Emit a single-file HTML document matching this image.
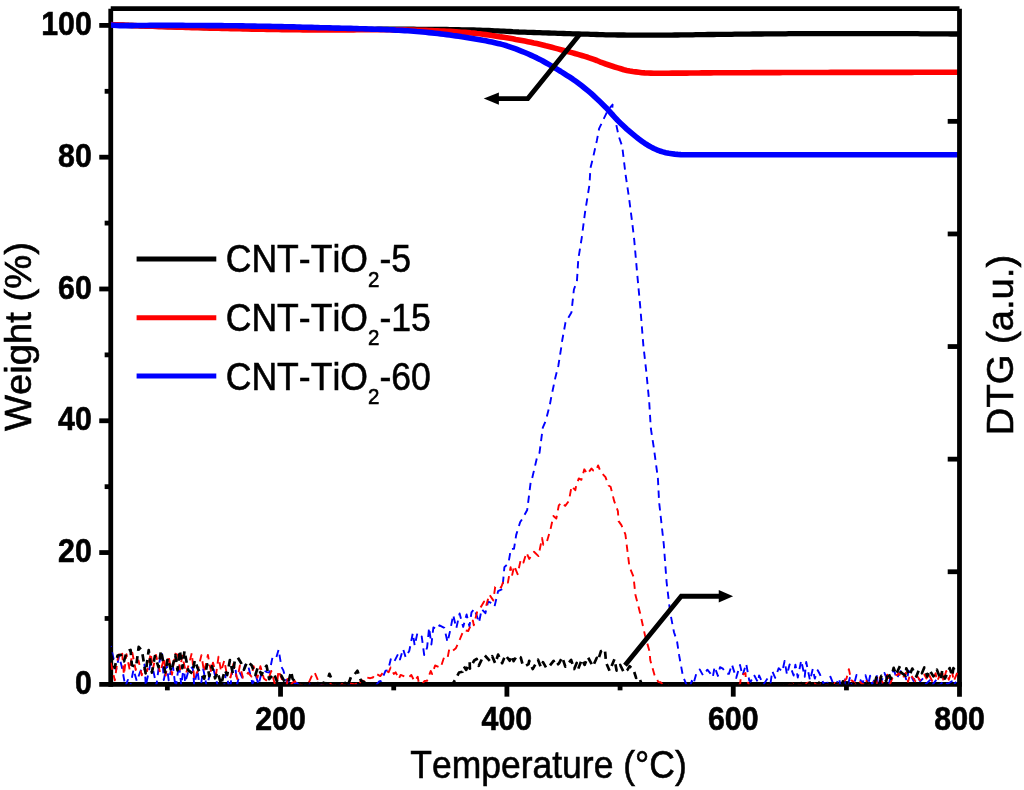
<!DOCTYPE html>
<html lang="en"><head><meta charset="utf-8"><title>TGA / DTG of CNT-TiO2</title>
<style>html,body{margin:0;padding:0;background:#fff}body{width:1024px;height:790px;overflow:hidden}svg{display:block}</style>
</head><body>
<svg width="1024" height="790" viewBox="0 0 1024 790">
<rect width="1024" height="790" fill="#fff"/>
<defs><clipPath id="plot"><rect x="110.75" y="8.7" width="848.75" height="675.65"/></clipPath></defs>
<g stroke="#000" stroke-width="4.8" fill="none" stroke-linecap="butt">
<line x1="110.75" y1="8.7" x2="110.75" y2="686.75"/>
<line x1="99.25" y1="684.35" x2="961.9" y2="684.35"/>
<line x1="99.25" y1="25.40" x2="110.75" y2="25.40"/>
<line x1="104.65" y1="91.30" x2="110.75" y2="91.30"/>
<line x1="99.25" y1="157.19" x2="110.75" y2="157.19"/>
<line x1="104.65" y1="223.09" x2="110.75" y2="223.09"/>
<line x1="99.25" y1="288.98" x2="110.75" y2="288.98"/>
<line x1="104.65" y1="354.88" x2="110.75" y2="354.88"/>
<line x1="99.25" y1="420.77" x2="110.75" y2="420.77"/>
<line x1="104.65" y1="486.67" x2="110.75" y2="486.67"/>
<line x1="99.25" y1="552.56" x2="110.75" y2="552.56"/>
<line x1="104.65" y1="618.46" x2="110.75" y2="618.46"/>
<line x1="280.54" y1="684.35" x2="280.54" y2="696.65"/>
<line x1="506.90" y1="684.35" x2="506.90" y2="696.65"/>
<line x1="733.26" y1="684.35" x2="733.26" y2="696.65"/>
<line x1="167.36" y1="684.35" x2="167.36" y2="690.35"/>
<line x1="393.72" y1="684.35" x2="393.72" y2="690.35"/>
<line x1="620.08" y1="684.35" x2="620.08" y2="690.35"/>
<line x1="846.44" y1="684.35" x2="846.44" y2="690.35"/>
</g>
<g clip-path="url(#plot)">
<polyline class="tg black" points="110.8,24.8 113.8,24.9 116.8,25.0 119.8,25.1 122.8,25.2 125.8,25.3 128.8,25.4 131.8,25.5 134.8,25.6 137.8,25.7 140.8,25.8 143.8,25.9 146.8,26.0 149.8,26.1 152.8,26.2 155.8,26.3 158.8,26.4 161.8,26.4 164.8,26.5 167.8,26.6 170.8,26.7 173.8,26.8 176.8,26.9 179.8,26.9 182.8,27.0 185.8,27.1 188.8,27.2 191.8,27.3 194.8,27.3 197.8,27.4 200.8,27.5 203.8,27.5 206.8,27.6 209.8,27.7 212.8,27.8 215.8,27.8 218.8,27.9 221.8,27.9 224.8,28.0 227.8,28.1 230.8,28.1 233.8,28.2 236.8,28.2 239.8,28.3 242.8,28.4 245.8,28.4 248.8,28.5 251.8,28.5 254.8,28.6 257.8,28.6 260.8,28.7 263.8,28.7 266.8,28.8 269.8,28.8 272.8,28.8 275.8,28.9 278.8,28.9 281.8,29.0 284.8,29.0 287.8,29.1 290.8,29.1 293.8,29.1 296.8,29.2 299.8,29.2 302.8,29.3 305.8,29.3 308.8,29.3 311.8,29.3 314.8,29.4 317.8,29.4 320.8,29.4 323.8,29.4 326.8,29.4 329.8,29.4 332.8,29.4 335.8,29.4 338.8,29.4 341.8,29.4 344.8,29.4 347.8,29.4 350.8,29.3 353.8,29.3 356.8,29.3 359.8,29.3 362.8,29.3 365.8,29.3 368.8,29.3 371.8,29.3 374.8,29.3 377.8,29.2 380.8,29.2 383.8,29.2 386.8,29.2 389.8,29.2 392.8,29.2 395.8,29.2 398.8,29.2 401.8,29.2 404.8,29.2 407.8,29.2 410.8,29.2 413.8,29.2 416.8,29.3 419.8,29.3 422.8,29.3 425.8,29.3 428.8,29.3 431.8,29.4 434.8,29.4 437.8,29.4 440.8,29.5 443.8,29.5 446.8,29.5 449.8,29.6 452.8,29.6 455.8,29.7 458.8,29.7 461.8,29.8 464.8,29.8 467.8,29.9 470.8,29.9 473.8,30.0 476.8,30.1 479.8,30.1 482.8,30.3 485.8,30.4 488.8,30.5 491.8,30.6 494.8,30.8 497.8,30.9 500.8,31.1 503.8,31.2 506.8,31.4 509.8,31.5 512.8,31.7 515.8,31.8 518.8,32.0 521.8,32.1 524.8,32.2 527.8,32.3 530.8,32.4 533.8,32.5 536.8,32.6 539.8,32.7 542.8,32.8 545.8,32.9 548.8,33.0 551.8,33.1 554.8,33.2 557.8,33.3 560.8,33.4 563.8,33.5 566.8,33.6 569.8,33.7 572.8,33.8 575.8,33.9 578.8,34.0 581.8,34.1 584.8,34.2 587.8,34.2 590.8,34.3 593.8,34.4 596.8,34.5 599.8,34.6 602.8,34.7 605.8,34.8 608.8,34.8 611.8,34.9 614.8,34.9 617.8,35.0 620.8,35.0 623.8,35.0 626.8,35.1 629.8,35.1 632.8,35.1 635.8,35.1 638.8,35.2 641.8,35.2 644.8,35.2 647.8,35.2 650.8,35.2 653.8,35.2 656.8,35.2 659.8,35.2 662.8,35.1 665.8,35.1 668.8,35.1 671.8,35.1 674.8,35.0 677.8,35.0 680.8,34.9 683.8,34.9 686.8,34.9 689.8,34.8 692.8,34.8 695.8,34.7 698.8,34.7 701.8,34.6 704.8,34.6 707.8,34.5 710.8,34.5 713.8,34.5 716.8,34.4 719.8,34.4 722.8,34.4 725.8,34.3 728.8,34.3 731.8,34.3 734.8,34.2 737.8,34.2 740.8,34.2 743.8,34.1 746.8,34.1 749.8,34.1 752.8,34.0 755.8,34.0 758.8,34.0 761.8,34.0 764.8,33.9 767.8,33.9 770.8,33.9 773.8,33.8 776.8,33.8 779.8,33.8 782.8,33.8 785.8,33.8 788.8,33.7 791.8,33.7 794.8,33.7 797.8,33.7 800.8,33.7 803.8,33.7 806.8,33.7 809.8,33.7 812.8,33.7 815.8,33.7 818.8,33.7 821.8,33.7 824.8,33.7 827.8,33.6 830.8,33.6 833.8,33.6 836.8,33.6 839.8,33.6 842.8,33.6 845.8,33.6 848.8,33.6 851.8,33.6 854.8,33.6 857.8,33.6 860.8,33.6 863.8,33.6 866.8,33.6 869.8,33.6 872.8,33.6 875.8,33.6 878.8,33.6 881.8,33.6 884.8,33.6 887.8,33.6 890.8,33.6 893.8,33.6 896.8,33.6 899.8,33.6 902.8,33.7 905.8,33.7 908.8,33.7 911.8,33.7 914.8,33.7 917.8,33.7 920.8,33.8 923.8,33.8 926.8,33.8 929.8,33.8 932.8,33.8 935.8,33.9 938.8,33.9 941.8,33.9 944.8,33.9 947.8,33.9 950.8,34.0 953.8,34.0 956.8,34.0 959.5,34.0" fill="none" stroke="#000" stroke-width="5.3" stroke-linejoin="round"/>
<polyline class="tg red" points="110.8,24.6 113.8,24.7 116.8,24.8 119.8,25.0 122.8,25.1 125.8,25.2 128.8,25.4 131.8,25.5 134.8,25.6 137.8,25.7 140.8,25.9 143.8,26.0 146.8,26.1 149.8,26.2 152.8,26.3 155.8,26.5 158.8,26.6 161.8,26.7 164.8,26.8 167.8,26.9 170.8,27.0 173.8,27.0 176.8,27.1 179.8,27.2 182.8,27.3 185.8,27.4 188.8,27.5 191.8,27.6 194.8,27.7 197.8,27.8 200.8,27.8 203.8,27.9 206.8,28.0 209.8,28.1 212.8,28.1 215.8,28.2 218.8,28.3 221.8,28.4 224.8,28.4 227.8,28.5 230.8,28.6 233.8,28.7 236.8,28.7 239.8,28.8 242.8,28.9 245.8,28.9 248.8,29.0 251.8,29.1 254.8,29.1 257.8,29.2 260.8,29.2 263.8,29.3 266.8,29.4 269.8,29.4 272.8,29.4 275.8,29.5 278.8,29.5 281.8,29.6 284.8,29.6 287.8,29.7 290.8,29.7 293.8,29.8 296.8,29.8 299.8,29.8 302.8,29.9 305.8,29.9 308.8,29.9 311.8,29.9 314.8,30.0 317.8,30.0 320.8,30.0 323.8,30.0 326.8,30.0 329.8,30.0 332.8,30.0 335.8,30.0 338.8,30.0 341.8,29.9 344.8,29.9 347.8,29.9 350.8,29.9 353.8,29.9 356.8,29.8 359.8,29.8 362.8,29.8 365.8,29.8 368.8,29.8 371.8,29.8 374.8,29.8 377.8,29.8 380.8,29.8 383.8,29.8 386.8,29.8 389.8,29.8 392.8,29.9 395.8,29.9 398.8,29.9 401.8,29.9 404.8,29.9 407.8,30.0 410.8,30.0 413.8,30.1 416.8,30.2 419.8,30.3 422.8,30.3 425.8,30.4 428.8,30.5 431.8,30.6 434.8,30.7 437.8,30.8 440.8,31.0 443.8,31.1 446.8,31.3 449.8,31.4 452.8,31.6 455.8,31.8 458.8,32.0 461.8,32.2 464.8,32.4 467.8,32.6 470.8,32.9 473.8,33.1 476.8,33.5 479.8,33.8 482.8,34.2 485.8,34.6 488.8,35.0 491.8,35.5 494.8,35.9 497.8,36.4 500.8,36.9 503.8,37.3 506.8,37.8 509.8,38.3 512.8,38.8 515.8,39.4 518.8,39.9 521.8,40.5 524.8,41.1 527.8,41.7 530.8,42.3 533.8,43.0 536.8,43.6 539.8,44.3 542.8,45.0 545.8,45.8 548.8,46.5 551.8,47.3 554.8,48.1 557.8,48.9 560.8,49.7 563.8,50.5 566.8,51.3 569.8,52.1 572.8,52.9 575.8,53.8 578.8,54.6 581.8,55.5 584.8,56.4 587.8,57.3 590.8,58.3 593.8,59.4 596.8,60.5 599.8,61.8 602.8,62.9 605.8,64.0 608.8,65.0 611.8,66.0 614.8,67.0 617.8,67.9 620.8,68.8 623.8,69.7 626.8,70.4 629.8,71.0 632.8,71.5 635.8,71.9 638.8,72.3 641.8,72.7 644.8,72.9 647.8,73.0 650.8,73.1 653.8,73.2 656.8,73.2 659.8,73.2 662.8,73.2 665.8,73.2 668.8,73.2 671.8,73.1 674.8,73.1 677.8,73.1 680.8,73.1 683.8,73.1 686.8,73.1 689.8,73.0 692.8,73.0 695.8,73.0 698.8,73.0 701.8,72.9 704.8,72.9 707.8,72.9 710.8,72.9 713.8,72.8 716.8,72.8 719.8,72.8 722.8,72.8 725.8,72.8 728.8,72.8 731.8,72.7 734.8,72.7 737.8,72.7 740.8,72.7 743.8,72.7 746.8,72.7 749.8,72.7 752.8,72.6 755.8,72.6 758.8,72.6 761.8,72.6 764.8,72.6 767.8,72.6 770.8,72.6 773.8,72.6 776.8,72.6 779.8,72.6 782.8,72.5 785.8,72.5 788.8,72.5 791.8,72.5 794.8,72.5 797.8,72.5 800.8,72.5 803.8,72.5 806.8,72.5 809.8,72.5 812.8,72.5 815.8,72.5 818.8,72.5 821.8,72.5 824.8,72.5 827.8,72.5 830.8,72.4 833.8,72.4 836.8,72.4 839.8,72.4 842.8,72.4 845.8,72.4 848.8,72.4 851.8,72.4 854.8,72.4 857.8,72.4 860.8,72.4 863.8,72.4 866.8,72.4 869.8,72.4 872.8,72.4 875.8,72.4 878.8,72.4 881.8,72.4 884.8,72.4 887.8,72.4 890.8,72.4 893.8,72.4 896.8,72.4 899.8,72.4 902.8,72.4 905.8,72.4 908.8,72.4 911.8,72.4 914.8,72.3 917.8,72.3 920.8,72.3 923.8,72.3 926.8,72.3 929.8,72.3 932.8,72.3 935.8,72.3 938.8,72.3 941.8,72.3 944.8,72.3 947.8,72.3 950.8,72.3 953.8,72.3 956.8,72.3 959.5,72.3" fill="none" stroke="#ff0000" stroke-width="5.6" stroke-linejoin="round"/>
<polyline class="tg blue" points="110.8,25.0 113.8,25.2 116.8,25.5 119.8,25.6 122.8,25.6 125.8,25.6 128.8,25.6 131.8,25.6 134.8,25.5 137.8,25.5 140.8,25.5 143.8,25.5 146.8,25.5 149.8,25.4 152.8,25.4 155.8,25.4 158.8,25.4 161.8,25.4 164.8,25.4 167.8,25.4 170.8,25.4 173.8,25.4 176.8,25.4 179.8,25.4 182.8,25.4 185.8,25.5 188.8,25.5 191.8,25.5 194.8,25.5 197.8,25.5 200.8,25.5 203.8,25.5 206.8,25.6 209.8,25.6 212.8,25.6 215.8,25.6 218.8,25.6 221.8,25.6 224.8,25.7 227.8,25.7 230.8,25.7 233.8,25.8 236.8,25.8 239.8,25.9 242.8,25.9 245.8,26.0 248.8,26.0 251.8,26.1 254.8,26.1 257.8,26.2 260.8,26.2 263.8,26.3 266.8,26.3 269.8,26.4 272.8,26.5 275.8,26.5 278.8,26.6 281.8,26.6 284.8,26.7 287.8,26.8 290.8,26.9 293.8,26.9 296.8,27.0 299.8,27.1 302.8,27.2 305.8,27.3 308.8,27.4 311.8,27.4 314.8,27.5 317.8,27.6 320.8,27.7 323.8,27.8 326.8,27.8 329.8,27.9 332.8,28.0 335.8,28.1 338.8,28.1 341.8,28.2 344.8,28.3 347.8,28.4 350.8,28.4 353.8,28.5 356.8,28.6 359.8,28.7 362.8,28.8 365.8,28.9 368.8,29.0 371.8,29.1 374.8,29.2 377.8,29.3 380.8,29.4 383.8,29.5 386.8,29.6 389.8,29.8 392.8,29.9 395.8,30.1 398.8,30.2 401.8,30.4 404.8,30.6 407.8,30.8 410.8,31.0 413.8,31.2 416.8,31.5 419.8,31.7 422.8,32.0 425.8,32.3 428.8,32.6 431.8,32.9 434.8,33.2 437.8,33.5 440.8,33.9 443.8,34.2 446.8,34.6 449.8,35.0 452.8,35.5 455.8,35.9 458.8,36.3 461.8,36.8 464.8,37.2 467.8,37.7 470.8,38.2 473.8,38.7 476.8,39.2 479.8,39.7 482.8,40.3 485.8,40.8 488.8,41.4 491.8,42.0 494.8,42.7 497.8,43.4 500.8,44.1 503.8,44.9 506.8,45.8 509.8,46.8 512.8,47.8 515.8,48.9 518.8,50.1 521.8,51.3 524.8,52.5 527.8,53.8 530.8,55.1 533.8,56.5 536.8,57.9 539.8,59.4 542.8,61.0 545.8,62.7 548.8,64.4 551.8,66.1 554.8,67.9 557.8,69.7 560.8,71.5 563.8,73.4 566.8,75.3 569.8,77.2 572.8,79.2 575.8,81.3 578.8,83.5 581.8,85.8 584.8,88.2 587.8,90.7 590.8,93.2 593.8,95.9 596.8,98.7 599.8,101.5 602.8,104.4 605.8,107.4 608.8,110.7 611.8,114.0 614.8,117.3 617.8,120.5 620.8,123.4 623.8,126.3 626.8,129.1 629.8,131.7 632.8,134.2 635.8,136.6 638.8,139.0 641.8,141.2 644.8,143.3 647.8,145.2 650.8,146.9 653.8,148.5 656.8,149.8 659.8,151.0 662.8,151.9 665.8,152.7 668.8,153.3 671.8,153.7 674.8,154.1 677.8,154.4 680.8,154.6 683.8,154.7 686.8,154.7 689.8,154.8 692.8,154.8 695.8,154.8 698.8,154.8 701.8,154.8 704.8,154.8 707.8,154.8 710.8,154.8 713.8,154.8 716.8,154.8 719.8,154.8 722.8,154.8 725.8,154.8 728.8,154.8 731.8,154.8 734.8,154.8 737.8,154.8 740.8,154.8 743.8,154.8 746.8,154.8 749.8,154.8 752.8,154.8 755.8,154.8 758.8,154.8 761.8,154.8 764.8,154.8 767.8,154.8 770.8,154.8 773.8,154.8 776.8,154.8 779.8,154.8 782.8,154.8 785.8,154.8 788.8,154.8 791.8,154.8 794.8,154.8 797.8,154.8 800.8,154.8 803.8,154.8 806.8,154.8 809.8,154.8 812.8,154.8 815.8,154.8 818.8,154.8 821.8,154.8 824.8,154.8 827.8,154.8 830.8,154.8 833.8,154.8 836.8,154.8 839.8,154.8 842.8,154.8 845.8,154.8 848.8,154.8 851.8,154.8 854.8,154.8 857.8,154.8 860.8,154.8 863.8,154.7 866.8,154.7 869.8,154.7 872.8,154.7 875.8,154.7 878.8,154.7 881.8,154.7 884.8,154.7 887.8,154.7 890.8,154.7 893.8,154.7 896.8,154.7 899.8,154.7 902.8,154.7 905.8,154.7 908.8,154.7 911.8,154.7 914.8,154.7 917.8,154.7 920.8,154.7 923.8,154.7 926.8,154.7 929.8,154.7 932.8,154.7 935.8,154.7 938.8,154.7 941.8,154.7 944.8,154.7 947.8,154.7 950.8,154.7 953.8,154.7 956.8,154.7 959.5,154.7" fill="none" stroke="#0000ff" stroke-width="5.6" stroke-linejoin="round"/>
</g>
<g stroke="#000" stroke-width="4.8" fill="none" stroke-linecap="butt">
<line x1="110.75" y1="8.7" x2="959.5" y2="8.7"/>
<line x1="959.5" y1="8.7" x2="959.5" y2="696.65"/>
<line x1="947.70" y1="571.75" x2="959.5" y2="571.75"/>
<line x1="947.70" y1="459.15" x2="959.5" y2="459.15"/>
<line x1="947.70" y1="346.55" x2="959.5" y2="346.55"/>
<line x1="947.70" y1="233.95" x2="959.5" y2="233.95"/>
<line x1="947.70" y1="121.35" x2="959.5" y2="121.35"/>
</g>
<g clip-path="url(#plot)">
<polyline class="dtg blue" points="110.8,646.0 114.0,660.8 116.1,670.0 119.1,656.1 122.2,668.6 125.3,686.5 127.9,679.9 129.9,687.9 133.5,669.6 136.8,681.2 140.1,672.0 144.5,664.6 145.8,685.9 150.2,664.6 153.2,670.2 156.4,685.5 159.4,662.0 161.9,651.8 163.8,680.1 166.7,664.9 168.7,680.4 172.6,663.0 175.6,688.5 179.0,664.2 181.3,685.4 183.9,664.3 185.1,682.7 188.9,669.3 192.7,667.1 194.2,685.0 197.5,669.9 200.1,690.4 203.3,669.2 206.7,686.5 210.4,672.9 213.4,668.9 217.8,686.2 221.0,690.4 223.5,690.4 226.0,673.2 229.9,690.4 232.8,666.9 235.4,668.1 237.2,684.2 239.9,672.9 242.2,677.5 245.0,665.2 247.7,663.8 252.5,683.7 255.9,675.7 258.6,684.8 261.6,672.4 264.6,671.0 267.0,672.1 269.4,672.5 272.4,657.7 276.0,658.4 278.6,649.6 281.5,667.0 283.2,670.1 287.0,682.9 289.8,679.8 295.4,683.6 296.5,682.7 299.5,685.4 303.8,684.5 307.5,686.3 310.1,684.1 312.9,683.4 316.8,686.2 321.6,684.8 323.0,686.9 326.7,685.1 330.2,686.9 333.1,684.1 336.3,687.6 339.4,685.3 343.1,686.4 345.3,684.6 345.9,686.8 349.6,684.4 352.7,687.9 356.8,684.9 360.3,686.4 363.2,687.2 364.7,685.4 367.1,687.4 372.5,685.0 375.1,686.5 379.0,681.5 381.3,680.8 385.6,670.7 388.1,670.3 391.0,658.2 394.4,661.3 398.1,653.9 400.0,659.4 403.1,649.0 405.7,657.4 409.3,650.8 412.8,633.2 414.7,645.6 417.4,633.0 421.7,636.4 424.2,655.0 427.1,647.6 429.1,627.7 431.4,644.5 433.4,627.4 437.0,629.2 439.5,625.3 444.3,627.8 447.5,642.1 450.1,630.9 453.2,614.9 456.3,628.3 459.6,613.5 463.2,626.9 466.6,614.4 469.4,626.4 471.5,612.4 474.5,608.9 479.0,622.6 481.7,609.2 485.4,613.2 488.1,601.5 490.5,602.7 494.5,606.7 498.1,591.1 502.4,589.1 504.4,567.1 508.4,563.5 510.9,548.9 514.0,548.8 516.2,534.9 520.2,522.0 522.3,519.0 527.2,510.0 530.7,482.0 531.5,481.1 536.8,458.4 539.5,452.9 542.8,427.6 545.8,420.6 549.9,404.6 551.2,397.4 555.4,377.4 558.3,366.0 561.6,345.2 562.2,340.5 565.5,322.4 571.4,312.6 573.9,289.5 576.9,281.6 578.3,259.0 581.7,238.1 585.1,211.9 589.5,184.4 590.4,168.2 593.0,157.8 596.9,140.4 599.1,128.6 601.9,122.7 608.0,109.9 612.6,104.6 612.2,109.2 615.9,123.0 618.7,136.3 622.2,146.3 625.6,174.8 629.1,198.4 632.2,222.6 634.2,239.6 637.2,273.8 640.3,307.3 643.4,345.9 646.1,369.8 649.2,401.7 650.8,428.2 653.8,447.6 657.9,478.3 659.1,502.0 663.8,544.5 666.6,582.1 670.1,612.1 674.0,632.3 677.0,641.1 679.1,655.2 682.9,676.0 686.3,684.4 689.5,688.0 691.8,680.8 693.3,684.4 696.3,673.7 699.7,669.4 703.0,675.4 707.4,669.7 710.3,673.3 712.8,677.2 714.6,666.8 717.9,675.9 720.0,667.2 722.9,668.7 726.3,673.7 728.9,673.9 731.9,664.5 736.2,677.9 740.0,664.9 742.5,675.5 746.2,663.8 749.2,680.3 750.7,681.7 754.0,674.8 757.9,682.3 759.1,675.5 763.4,684.7 767.7,678.2 770.6,682.6 772.3,671.1 775.2,677.8 778.7,668.2 782.3,671.6 784.6,661.0 787.0,674.7 789.6,664.4 793.6,675.5 795.4,664.6 797.8,677.5 801.2,660.5 804.7,676.8 806.2,662.0 810.0,680.4 812.8,668.9 814.8,678.6 817.7,670.2 819.9,674.3 823.4,683.1 828.5,682.6 830.4,676.6 834.7,687.6 838.9,678.1 840.6,685.6 844.5,679.4 846.8,688.1 849.9,677.8 853.0,688.4 856.5,674.9 858.5,677.0 862.4,683.2 865.5,675.2 868.2,684.5 870.1,675.7 872.1,684.4 876.6,675.2 878.4,686.1 881.1,682.6 884.4,672.9 889.0,684.2 891.6,672.4 894.2,670.5 896.5,678.6 900.8,671.2 903.2,669.9 906.6,680.8 908.7,670.7 913.5,680.9 913.5,679.7 917.6,676.6 920.2,681.3 923.2,678.3 926.0,683.9 930.7,679.4 932.3,685.1 936.6,679.5 938.5,686.0 940.8,684.0 943.7,680.7 947.6,684.0 951.9,681.3 952.7,685.1 956.3,681.9" fill="none" stroke="#0000ff" stroke-width="1.9" stroke-dasharray="7.3 5.4" stroke-dashoffset="6.12" stroke-linejoin="round"/>
<polyline class="dtg red" points="110.8,662.7 114.8,680.4 118.2,655.5 122.0,651.1 123.9,674.7 126.5,654.2 129.8,670.2 132.3,652.6 135.7,670.0 138.5,660.5 141.8,675.2 143.2,668.4 147.1,671.1 150.8,653.2 152.8,669.3 156.0,655.0 160.1,672.7 164.1,658.0 165.7,675.5 168.5,655.6 172.0,674.7 175.1,653.6 177.8,654.8 180.1,669.6 182.2,655.6 186.1,673.2 189.2,663.3 191.8,653.0 194.2,678.2 197.7,671.0 201.4,655.1 204.1,672.0 207.9,655.0 210.9,671.1 213.0,662.6 216.1,674.2 218.5,656.6 221.1,671.3 224.3,660.4 226.8,674.1 230.6,677.4 233.5,663.8 237.3,679.1 239.9,665.5 242.9,677.7 245.8,676.8 248.0,672.7 251.5,676.6 253.6,666.2 257.4,677.7 260.4,666.2 263.9,678.4 267.5,681.3 271.3,671.0 274.6,683.2 277.0,684.2 278.5,670.5 282.7,681.2 287.0,684.2 287.5,679.0 291.1,684.2 294.7,680.8 297.2,685.5 301.2,684.5 303.6,686.8 307.2,685.5 309.7,680.6 312.6,674.1 314.5,672.2 320.3,685.7 323.0,684.4 325.1,687.0 328.2,684.7 330.3,683.8 334.6,685.8 337.3,683.6 339.8,686.6 341.7,684.2 344.3,684.4 348.0,685.7 350.0,683.4 354.8,684.5 357.7,682.7 358.9,684.8 361.4,680.0 365.5,681.8 367.1,677.6 370.3,678.2 372.9,677.5 375.5,673.3 380.3,676.1 383.6,671.8 386.3,670.7 388.6,672.3 390.6,667.5 393.8,673.9 395.7,672.3 398.8,679.0 400.6,674.9 405.7,677.1 409.1,677.1 411.3,675.0 414.4,681.2 417.7,676.8 418.9,683.2 422.4,684.0 424.4,681.0 427.0,680.9 430.7,671.0 432.2,674.1 435.1,665.5 440.6,667.7 444.2,656.9 447.6,657.8 449.3,648.9 452.4,651.0 455.9,648.2 459.8,639.5 463.6,630.2 465.1,630.4 468.2,631.0 472.9,620.6 473.8,625.2 477.4,610.8 481.2,606.5 484.1,601.6 486.0,606.5 489.3,594.5 493.3,600.4 495.2,586.8 498.6,585.5 501.1,587.5 503.7,580.6 507.9,582.6 510.6,567.1 512.0,575.8 514.2,565.7 517.6,574.2 520.8,559.4 523.4,562.6 526.5,552.7 529.2,558.9 534.0,551.8 538.5,556.1 542.0,538.0 543.3,544.8 546.5,543.1 550.5,529.3 553.4,516.0 556.3,518.6 558.8,505.4 561.8,502.2 565.2,505.9 568.9,500.9 571.6,486.1 575.3,490.2 576.2,485.5 578.8,478.4 581.4,479.8 584.3,469.3 587.4,474.1 591.4,468.5 593.4,470.6 596.0,471.0 598.1,465.4 600.6,471.8 605.5,477.1 608.5,485.5 610.6,486.7 614.2,501.2 617.9,511.1 618.6,521.1 621.4,525.1 625.4,534.3 627.6,552.1 629.4,566.6 633.5,576.6 635.4,594.8 640.2,613.5 643.7,629.4 645.1,635.8 649.5,651.2 650.3,660.3 654.5,675.0 658.4,682.1 660.5,682.3 662.9,684.6 666.4,684.4 669.7,686.3 672.1,686.7 674.9,685.8 677.7,686.4 679.6,685.6 683.4,687.1 686.1,685.2 691.9,686.5 693.9,685.5 698.8,686.7 701.6,685.3 704.6,686.9 706.4,687.0 709.5,685.5 711.6,687.0 715.7,685.8 719.5,686.7 723.5,686.0 726.1,686.7 726.5,685.8 731.7,687.2 734.4,687.1 737.3,687.1 740.2,683.7 740.9,675.9 745.5,673.0 745.8,678.2 749.8,686.4 753.1,687.6 755.4,686.2 759.0,687.2 760.5,685.5 763.9,687.7 767.1,684.9 771.5,685.8 773.4,687.2 778.3,685.6 780.7,688.1 785.6,684.0 786.6,686.7 789.4,684.8 792.6,683.5 795.1,687.6 800.1,684.0 801.9,686.9 804.7,684.2 808.2,682.6 810.0,686.6 814.6,683.4 815.7,684.7 819.5,684.0 823.3,686.4 826.7,684.5 831.6,687.1 833.2,682.5 837.6,684.1 839.1,686.2 842.6,682.7 846.5,678.6 848.9,669.1 851.1,680.1 853.7,681.9 856.5,686.1 860.2,681.9 862.8,685.1 865.4,679.3 869.8,686.3 870.8,684.1 876.4,680.1 876.9,683.0 879.5,677.4 882.6,682.6 886.4,676.7 887.2,674.7 889.9,684.5 893.9,674.4 897.2,675.2 898.5,673.0 902.6,678.6 905.9,672.7 908.0,681.9 910.2,674.0 915.3,681.2 916.4,675.0 919.9,680.1 924.3,674.5 926.5,678.5 928.1,673.1 932.3,681.3 935.6,673.3 937.1,681.0 942.3,670.5 943.4,681.2 946.2,671.0 948.8,679.7 951.9,670.1 953.7,681.2 958.0,671.1" fill="none" stroke="#ff0000" stroke-width="1.9" stroke-dasharray="7.3 5.4" stroke-dashoffset="0.00" stroke-linejoin="round"/>
<polyline class="dtg black" points="110.8,653.3 114.6,667.9 117.6,655.5 120.8,654.8 124.0,661.3 126.7,651.3 130.6,649.9 131.9,665.3 136.1,666.8 138.7,646.8 141.9,650.6 145.6,673.3 148.7,650.2 151.9,672.6 154.9,656.0 158.5,667.2 161.0,650.5 165.3,672.5 167.7,658.4 171.3,671.4 175.3,655.0 177.5,670.4 179.8,650.3 182.4,668.2 184.5,650.9 188.1,670.1 192.3,673.4 194.8,660.2 197.7,668.3 199.5,671.7 204.2,678.7 207.2,664.3 209.3,676.2 212.0,666.2 215.1,678.3 217.5,672.0 221.2,684.4 224.8,670.2 227.2,675.0 229.9,660.0 232.9,673.6 234.8,660.7 237.8,657.5 241.1,663.0 243.9,669.8 247.3,661.6 251.5,665.1 255.4,675.0 257.8,667.4 261.6,674.9 264.0,668.8 266.6,665.7 269.2,679.2 274.0,673.5 276.8,681.1 281.2,675.5 285.0,682.5 288.4,682.2 291.1,671.5 292.6,678.8 295.8,682.4 298.9,686.6 303.4,682.5 307.0,687.1 310.2,688.3 313.2,684.4 316.9,686.6 317.9,683.1 321.6,686.8 323.5,682.7 326.4,684.1 329.4,673.8 334.6,686.2 336.9,684.0 342.3,687.6 345.2,682.8 347.7,686.0 350.9,677.1 352.8,676.7 357.4,670.7 361.0,680.8 364.5,682.3 365.6,686.5 369.9,683.4 370.4,687.1 374.4,685.3 379.2,688.2 382.3,685.1 384.5,687.2 386.9,684.5 388.8,688.5 391.8,685.4 394.4,688.4 396.8,687.5 400.2,688.9 404.3,684.9 405.5,688.2 409.1,684.3 412.7,688.3 414.1,685.2 418.3,688.1 421.4,684.4 423.3,684.4 426.4,687.9 429.6,684.9 432.4,687.2 436.6,687.2 440.2,685.6 441.6,687.6 446.4,683.8 449.9,684.5 453.2,682.9 455.6,679.1 459.0,672.5 462.4,671.8 463.8,666.4 466.2,669.9 469.7,662.1 469.9,668.7 474.2,660.5 476.7,659.0 478.7,665.8 483.2,656.5 484.8,655.4 489.9,661.0 492.2,656.2 495.3,663.5 498.1,654.6 502.1,663.2 505.4,655.0 509.7,660.7 512.3,655.7 513.6,661.1 517.0,655.7 520.7,657.4 522.9,665.4 525.2,666.1 528.5,664.1 529.2,660.9 532.7,669.0 538.0,659.7 540.9,667.4 543.0,662.2 546.4,668.1 549.2,666.4 553.6,660.9 555.9,665.8 559.0,663.4 562.2,657.1 565.3,666.7 567.0,664.7 571.1,659.9 574.2,669.0 576.7,662.9 578.3,668.7 581.9,659.4 584.6,664.9 587.8,657.0 592.9,666.4 596.8,657.8 598.1,660.3 600.9,651.3 604.9,649.4 606.1,662.8 609.6,670.9 614.5,659.1 616.6,670.6 620.2,665.0 624.0,672.7 627.6,669.7 629.6,666.2 633.6,670.0 636.1,677.9 638.6,676.6 641.8,684.2 645.0,684.5 647.4,686.0 650.7,685.9 653.6,684.7 655.3,685.7 657.5,684.4 660.2,686.5 663.4,684.9 665.6,685.9 668.7,685.1 672.2,686.9 673.9,685.2 676.9,687.1 679.5,685.2 681.4,686.6 685.6,685.7 688.8,687.4 692.2,685.7 693.4,687.4 698.6,687.2 700.8,685.1 702.9,687.1 707.1,686.8 709.3,685.7 711.7,687.6 715.4,685.0 718.7,687.0 720.9,687.0 722.2,685.5 725.4,687.8 727.3,687.7 730.2,685.4 735.0,687.0 737.4,684.7 740.7,687.9 744.3,685.3 746.3,687.6 750.6,685.4 753.0,687.4 754.5,687.9 758.7,685.7 761.3,687.7 764.0,685.4 768.9,687.6 771.8,685.6 775.1,687.3 778.1,684.1 779.3,686.6 784.5,684.9 786.0,684.0 788.8,687.0 790.8,683.9 794.9,683.9 797.1,687.1 801.1,683.0 804.4,684.4 805.6,687.3 809.9,682.5 814.4,682.9 817.0,686.1 819.0,682.7 822.9,686.1 826.2,683.9 828.9,685.9 831.0,684.0 834.8,687.8 836.5,683.6 841.1,687.4 842.9,681.4 846.8,687.9 847.2,680.8 852.0,686.7 854.7,682.0 858.9,687.0 863.2,685.6 863.9,681.9 867.3,683.1 871.3,687.8 874.3,684.7 876.3,677.5 879.9,682.8 881.4,675.8 886.2,681.0 888.1,672.2 890.8,678.8 893.7,667.9 896.0,674.6 900.0,665.9 900.9,672.3 905.7,675.8 906.3,668.3 909.5,675.7 912.3,668.6 916.3,676.5 919.1,669.5 921.9,673.2 924.3,667.5 927.3,676.5 929.5,670.0 933.4,676.4 936.9,669.7 940.8,679.9 942.2,670.7 945.0,678.5 949.7,668.1 952.2,676.0 953.4,668.2 956.5,673.1" fill="none" stroke="#000" stroke-width="2.7" stroke-dasharray="7.3 5.4" stroke-dashoffset="0.00" stroke-linejoin="round"/>
</g>
<g stroke="#000" stroke-width="4.8" fill="none" stroke-linejoin="miter">
<polyline points="579.4,34.8 527.8,98.6 497,98.6"/>
<polyline points="625,665.3 681.25,596.25 720,596.25"/>
</g>
<polygon points="483.75,98.6 498.9,92.6 498.9,104.8" fill="#000"/>
<polygon points="733.1,596.25 718.75,590.1 718.75,602.4" fill="#000"/>
<g stroke-width="5" fill="none">
<line x1="136.6" y1="258.9" x2="216.3" y2="258.9" stroke="#000"/>
<line x1="136.6" y1="317.7" x2="216.3" y2="317.7" stroke="#ff0000"/>
<line x1="136.6" y1="376.1" x2="216.3" y2="376.1" stroke="#0000ff"/>
</g>
<g font-family="'Liberation Sans', Arial, Helvetica, sans-serif" fill="#000" style="font-kerning:none" font-kerning="none">
<text id="leg0" x="225.7" y="272.40" font-size="39.6" stroke="#000" stroke-width="0.6" transform="translate(225.7 0) scale(0.899 1) translate(-225.7 0)">CNT-TiO<tspan font-size="22.8" dy="14.3">2</tspan><tspan dy="-14.3">-5</tspan></text>
<text id="leg1" x="225.7" y="331.05" font-size="39.6" stroke="#000" stroke-width="0.6" transform="translate(225.7 0) scale(0.899 1) translate(-225.7 0)">CNT-TiO<tspan font-size="22.8" dy="14.3">2</tspan><tspan dy="-14.3">-15</tspan></text>
<text id="leg2" x="225.7" y="389.70" font-size="39.6" stroke="#000" stroke-width="0.6" transform="translate(225.7 0) scale(0.899 1) translate(-225.7 0)">CNT-TiO<tspan font-size="22.8" dy="14.3">2</tspan><tspan dy="-14.3">-60</tspan></text>
<text id="yt0" x="91.8" y="35.00" font-size="33.5" font-weight="bold" stroke="#000" stroke-width="0.6" text-anchor="end" transform="translate(91.8 0) scale(0.905 1) translate(-91.8 0)">100</text>
<text id="yt1" x="91.8" y="166.79" font-size="33.5" font-weight="bold" stroke="#000" stroke-width="0.6" text-anchor="end" transform="translate(91.8 0) scale(0.905 1) translate(-91.8 0)">80</text>
<text id="yt2" x="91.8" y="298.58" font-size="33.5" font-weight="bold" stroke="#000" stroke-width="0.6" text-anchor="end" transform="translate(91.8 0) scale(0.905 1) translate(-91.8 0)">60</text>
<text id="yt3" x="91.8" y="430.37" font-size="33.5" font-weight="bold" stroke="#000" stroke-width="0.6" text-anchor="end" transform="translate(91.8 0) scale(0.905 1) translate(-91.8 0)">40</text>
<text id="yt4" x="91.8" y="562.16" font-size="33.5" font-weight="bold" stroke="#000" stroke-width="0.6" text-anchor="end" transform="translate(91.8 0) scale(0.905 1) translate(-91.8 0)">20</text>
<text id="yt5" x="91.8" y="693.95" font-size="33.5" font-weight="bold" stroke="#000" stroke-width="0.6" text-anchor="end" transform="translate(91.8 0) scale(0.905 1) translate(-91.8 0)">0</text>
<text id="xt200" x="280.54" y="729.9" font-size="33.5" font-weight="bold" stroke="#000" stroke-width="0.6" text-anchor="middle" transform="translate(280.54 0) scale(0.905 1) translate(-280.54 0)">200</text>
<text id="xt400" x="506.90" y="729.9" font-size="33.5" font-weight="bold" stroke="#000" stroke-width="0.6" text-anchor="middle" transform="translate(506.90 0) scale(0.905 1) translate(-506.90 0)">400</text>
<text id="xt600" x="733.26" y="729.9" font-size="33.5" font-weight="bold" stroke="#000" stroke-width="0.6" text-anchor="middle" transform="translate(733.26 0) scale(0.905 1) translate(-733.26 0)">600</text>
<text id="xt800" x="959.62" y="729.9" font-size="33.5" font-weight="bold" stroke="#000" stroke-width="0.6" text-anchor="middle" transform="translate(959.62 0) scale(0.905 1) translate(-959.62 0)">800</text>
<text id="xlabel" x="548.5" y="778.0" font-size="39.4" stroke="#000" stroke-width="0.6" text-anchor="middle" transform="translate(548.5 0) scale(0.901 1) translate(-548.5 0)">Temperature (°C)</text>
<text id="ylabel" font-size="37" stroke="#000" stroke-width="0.6" text-anchor="middle" transform="translate(30.7 336.5) rotate(-90) scale(1.0324 1)">Weight (%)</text>
<text id="y2label" font-size="37" stroke="#000" stroke-width="0.6" text-anchor="middle" transform="translate(1013.3 345) rotate(-90) scale(1.0324 1)">DTG (a.u.)</text>
</g>
</svg>
</body></html>
